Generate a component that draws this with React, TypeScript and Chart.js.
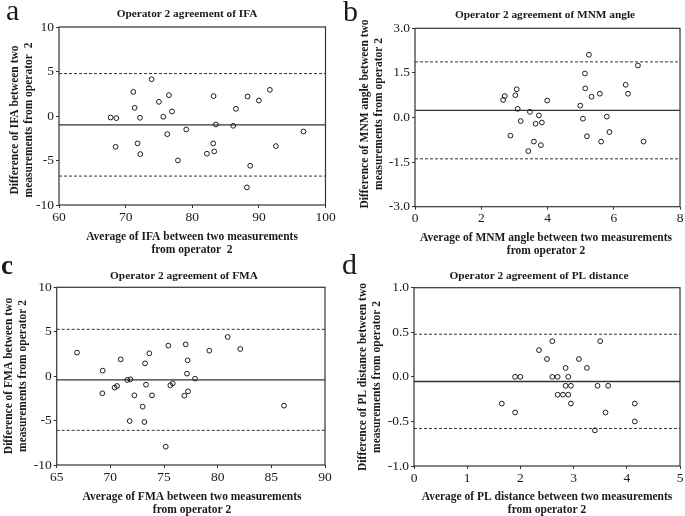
import React, { useEffect, useRef } from 'react';
import { Chart, registerables } from 'chart.js';

Chart.register(...registerables);

const W = 685;
const H = 516;
const SERIF = '"Liberation Serif", "Times New Roman", serif';

// ---- Panel a: IFA ----
const ifaAvg = [67.75, 68.6, 68.5, 71.15, 71.35, 72.15, 71.8, 72.2, 73.9, 75.0, 76.5, 75.65, 76.95, 76.25, 77.85, 79.1, 83.2, 83.55, 83.15, 83.3, 82.2, 86.55, 86.15, 88.3, 88.7, 88.2, 90.0, 91.65, 92.55, 96.7];
const ifaDiff = [-0.17, -0.24, -3.46, 2.71, 0.92, -0.2, -3.08, -4.28, 4.13, 1.59, 2.34, -0.09, 0.51, -2.04, -4.99, -1.51, 2.23, -0.95, -3.08, -3.98, -4.24, 0.81, -1.1, 2.19, -5.59, -8.02, 1.74, 2.94, -3.38, -1.74];
const ifaLimits = [4.77, -0.99, -6.75]; // upper LoA, mean, lower LoA
const ifaXTicks = [60, 70, 80, 90, 100];
const ifaYTicks = [10, 5, 0, -5, -10];

// ---- Panel b: MNM angle ----
const mnmAvg = [2.66, 2.71, 3.03, 3.07, 3.1, 2.88, 3.19, 3.47, 3.59, 3.42, 3.8, 3.64, 3.74, 3.83, 3.99, 4.99, 5.07, 5.13, 5.14, 5.25, 5.19, 5.33, 5.58, 5.62, 5.79, 5.87, 6.36, 6.43, 6.73, 6.9];
const mnmDiff = [0.59, 0.72, 0.75, 0.95, 0.29, -0.61, -0.12, 0.19, -0.81, -1.13, -0.93, -0.21, 0.07, -0.17, 0.57, 0.4, -0.04, 1.48, 0.98, 2.11, -0.63, 0.7, 0.8, -0.81, 0.03, -0.49, 1.1, 0.8, 1.75, -0.81];
const mnmLimits = [1.87, 0.24, -1.39];
const mnmXTicks = [0, 2, 4, 6, 8];
const mnmYTicks = [3.0, 1.5, 0.0, -1.5, -3.0];

// ---- Panel c: FMA ----
const fmaAvg = [66.89, 69.29, 69.25, 70.4, 70.62, 70.96, 71.58, 71.86, 71.8, 72.24, 73.01, 73.23, 73.17, 73.32, 73.63, 73.88, 75.4, 75.16, 75.59, 75.81, 77.02, 77.2, 77.14, 76.89, 77.24, 77.89, 79.22, 80.93, 82.11, 86.18];
const fmaDiff = [2.65, 0.62, -1.93, -1.29, -1.11, 1.89, -0.43, -0.36, -5.05, -2.16, -3.43, 1.44, -5.16, -0.96, 2.57, -2.16, 3.43, -7.94, -1.03, -0.81, 3.58, 1.78, 0.28, -2.2, -1.71, -0.28, 2.87, 4.41, 3.06, -3.32];
const fmaLimits = [5.27, -0.43, -6.1];
const fmaXTicks = [65, 70, 75, 80, 85, 90];
const fmaYTicks = [10, 5, 0, -5, -10];

// ---- Panel d: PL distance ----
const plAvg = [1.65, 1.9, 2.0, 1.9, 2.35, 2.5, 2.6, 2.6, 2.7, 2.85, 2.9, 2.85, 2.95, 2.7, 2.8, 2.9, 2.95, 3.1, 3.25, 3.45, 3.5, 3.65, 3.6, 3.4, 4.15, 4.15];
const plDiff = [-0.3, 0, 0, -0.4, 0.3, 0.2, 0.4, 0, 0, 0.1, 0, -0.1, -0.1, -0.2, -0.2, -0.2, -0.3, 0.2, 0.1, -0.1, 0.4, -0.1, -0.4, -0.6, -0.3, -0.5];
const plLimits = [0.478, -0.052, -0.579];
const plXTicks = [0, 1, 2, 3, 4, 5];
const plYTicks = [1.0, 0.5, 0.0, -0.5, -1.0];

type Panel = {
  letter: string;
  letterFont: string;
  letterPos: [number, number];
  title: string;
  titlePos: [number, number];
  xTitle: string[];
  xTitlePos: [number, number];
  yTitle: string[];
  yTitleX: [number, number];
  yTitleCy: number;
  area: { l: number; t: number; r: number; b: number };
  xs: number[];
  ys: number[];
  limits: number[];
  xTicks: number[];
  yTicks: number[];
  yDec: number;
};

const panels: Panel[] = [
  {
    letter: 'a', letterFont: `30px ${SERIF}`, letterPos: [6, 20],
    title: 'Operator 2 agreement of IFA', titlePos: [187, 14],
    xTitle: ['Average of IFA between two measurements', 'from operator  2'], xTitlePos: [192, 237],
    yTitle: ['Difference of IFA between two', 'measurements from operator  2'], yTitleX: [15, 29], yTitleCy: 120,
    area: { l: 59, t: 27, r: 325.5, b: 205 },
    xs: ifaAvg, ys: ifaDiff, limits: ifaLimits, xTicks: ifaXTicks, yTicks: ifaYTicks, yDec: 0,
  },
  {
    letter: 'b', letterFont: `30px ${SERIF}`, letterPos: [343, 21],
    title: 'Operator 2 agreement of MNM angle', titlePos: [545, 15],
    xTitle: ['Average of MNM angle between two measurements', 'from operator 2'], xTitlePos: [546, 238],
    yTitle: ['Difference of MNM angle between two', 'measurements from operator 2'], yTitleX: [365, 379], yTitleCy: 114,
    area: { l: 415, t: 28.3, r: 681.7, b: 206.7 },
    xs: mnmAvg, ys: mnmDiff, limits: mnmLimits, xTicks: mnmXTicks, yTicks: mnmYTicks, yDec: 1,
  },
  {
    letter: 'c', letterFont: `bold 27px ${SERIF}`, letterPos: [1, 274],
    title: 'Operator 2 agreement of FMA', titlePos: [184, 276],
    xTitle: ['Average of FMA between two measurements', 'from operator 2'], xTitlePos: [192, 497],
    yTitle: ['Difference of FMA between two', 'measurements from operator 2'], yTitleX: [9.5, 23.5], yTitleCy: 376,
    area: { l: 56.7, t: 287.3, r: 325, b: 465 },
    xs: fmaAvg, ys: fmaDiff, limits: fmaLimits, xTicks: fmaXTicks, yTicks: fmaYTicks, yDec: 0,
  },
  {
    letter: 'd', letterFont: `30px ${SERIF}`, letterPos: [342, 274],
    title: 'Operator 2 agreement of PL distance', titlePos: [539, 276],
    xTitle: ['Average of PL distance between two measurements', 'from operator 2'], xTitlePos: [547, 497],
    yTitle: ['Difference of PL distance between two', 'measurements from operator 2'], yTitleX: [363.5, 377.5], yTitleCy: 377,
    area: { l: 414, t: 287.7, r: 680.7, b: 466 },
    xs: plAvg, ys: plDiff, limits: plLimits, xTicks: plXTicks, yTicks: plYTicks, yDec: 1,
  },
];

const AXIS = '#333';
const INK = '#1a1a1a';
const Y_W = 40;
const X_H = 30;

function makeChart(canvas: HTMLCanvasElement, p: Panel) {
  const xmin = p.xTicks[0];
  const xmax = p.xTicks[p.xTicks.length - 1];
  const ymin = p.yTicks[p.yTicks.length - 1];
  const ymax = p.yTicks[0];

  const textPlugin = {
    id: 'panelText' + p.letter,
    afterDraw(chart: any) {
      const ctx = chart.ctx as CanvasRenderingContext2D;
      const a = chart.chartArea;
      ctx.save();
      // frame box
      ctx.strokeStyle = AXIS;
      ctx.lineWidth = 1.2;
      ctx.strokeRect(a.left, a.top, a.right - a.left, a.bottom - a.top);

      ctx.fillStyle = INK;
      // panel letter
      ctx.font = p.letterFont;
      ctx.textAlign = 'left';
      ctx.textBaseline = 'alphabetic';
      ctx.fillText(p.letter, p.letterPos[0], p.letterPos[1]);

      // title
      ctx.font = `bold 11.3px ${SERIF}`;
      ctx.textAlign = 'center';
      ctx.textBaseline = 'middle';
      ctx.fillText(p.title, p.titlePos[0], p.titlePos[1]);

      // axis titles
      ctx.font = `bold 11.5px ${SERIF}`;
      p.xTitle.forEach((line, i) => {
        ctx.fillText(line, p.xTitlePos[0], p.xTitlePos[1] + i * 13);
      });

      p.yTitle.forEach((line, i) => {
        ctx.save();
        ctx.translate(p.yTitleX[i], p.yTitleCy);
        ctx.rotate(-Math.PI / 2);
        ctx.fillText(line, 0, 0);
        ctx.restore();
      });
      ctx.restore();
    },
  };

  const lineDs = (y: number, dashed: boolean) => ({
    type: 'line' as const,
    data: [
      { x: xmin, y },
      { x: xmax, y },
    ],
    showLine: true,
    borderColor: AXIS,
    borderWidth: dashed ? 1 : 1.3,
    borderDash: dashed ? [3, 2] : [],
    pointRadius: 0,
    fill: false,
    order: 1,
  });

  return new Chart(canvas, {
    type: 'scatter',
    data: {
      datasets: [
        {
          type: 'scatter',
          data: p.xs.map((x, i) => ({ x, y: p.ys[i] })),
          pointRadius: 2.4,
          pointBorderWidth: 1,
          borderColor: INK,
          backgroundColor: 'rgba(255,255,255,0)',
          pointBackgroundColor: 'rgba(255,255,255,0)',
          pointBorderColor: INK,
          order: 0,
        } as any,
        lineDs(p.limits[0], true),
        lineDs(p.limits[1], false),
        lineDs(p.limits[2], true),
      ],
    },
    options: {
      animation: false,
      responsive: false,
      events: [],
      layout: {
        padding: {
          left: p.area.l - Y_W,
          top: p.area.t,
          right: W - p.area.r,
          bottom: H - p.area.b - X_H,
        },
      },
      plugins: {
        legend: { display: false },
        tooltip: { enabled: false },
      },
      scales: {
        x: {
          type: 'linear',
          min: xmin,
          max: xmax,
          afterFit: (s: any) => {
            s.height = X_H;
          },
          afterBuildTicks: (s: any) => {
            s.ticks = p.xTicks.map((v) => ({ value: v }));
          },
          grid: { drawOnChartArea: false, drawTicks: true, tickLength: 3, color: AXIS },
          border: { display: false },
          ticks: {
            font: { family: SERIF, size: 13.5 },
            color: INK,
            padding: 1,
            maxRotation: 0,
            autoSkip: false,
            callback: (v: any) => String(v),
          },
        },
        y: {
          type: 'linear',
          min: ymin,
          max: ymax,
          afterFit: (s: any) => {
            s.width = Y_W;
          },
          afterBuildTicks: (s: any) => {
            s.ticks = p.yTicks.map((v) => ({ value: v }));
          },
          grid: { drawOnChartArea: false, drawTicks: true, tickLength: 3, color: AXIS },
          border: { display: false },
          ticks: {
            font: { family: SERIF, size: 13.5 },
            color: INK,
            padding: 2,
            autoSkip: false,
            callback: (v: any) => Number(v).toFixed(p.yDec),
          },
        },
      },
    } as any,
    plugins: [textPlugin],
  });
}

function PanelCanvas({ p }: { p: Panel }) {
  const ref = useRef<HTMLCanvasElement | null>(null);
  useEffect(() => {
    if (!ref.current) return;
    const chart = makeChart(ref.current, p);
    return () => chart.destroy();
  }, [p]);
  return (
    <canvas
      ref={ref}
      width={W}
      height={H}
      style={{ position: 'absolute', left: 0, top: 0, width: W, height: H }}
    />
  );
}

export default function App() {
  return (
    <div style={{ position: 'absolute', left: 0, top: 0, width: W, height: H, background: '#fff', overflow: 'hidden' }}>
      {panels.map((p) => (
        <PanelCanvas key={p.letter} p={p} />
      ))}
    </div>
  );
}
